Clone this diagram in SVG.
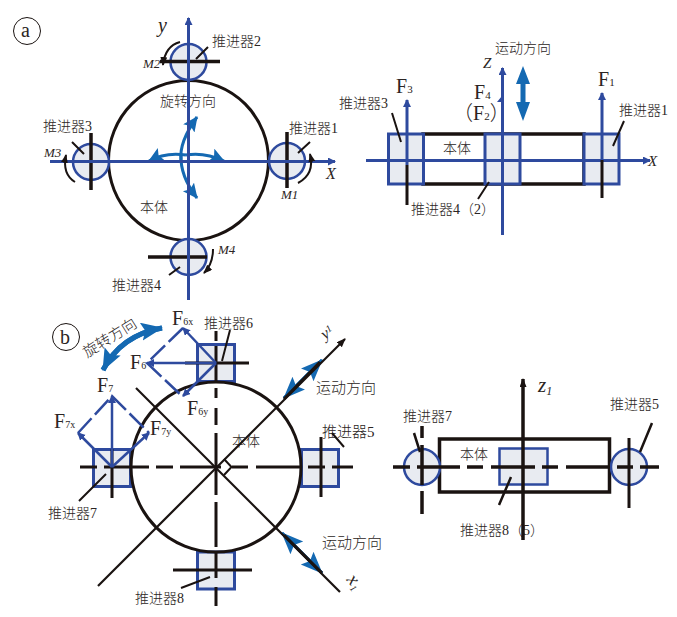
<svg xmlns="http://www.w3.org/2000/svg" width="677" height="617" viewBox="0 0 677 617">
<defs>
<marker id="ba" markerUnits="userSpaceOnUse" markerWidth="8" markerHeight="10" refX="7" refY="4" orient="auto"><path d="M0 0L8 4L0 8z" fill="#2e4a9e"/></marker>
<marker id="bk" markerUnits="userSpaceOnUse" markerWidth="10" markerHeight="8" refX="8" refY="3.500" orient="auto"><path d="M0 0L9 3.500L0 7z" fill="#1a1311"/></marker>
<marker id="tl" markerUnits="userSpaceOnUse" markerWidth="18" markerHeight="16" refX="14" refY="7" orient="auto"><path d="M0 0L15 7L0 14L3 7z" fill="#1469b2"/></marker>
<marker id="tl2" markerUnits="userSpaceOnUse" markerWidth="24" markerHeight="20" refX="21" refY="9" orient="auto"><path d="M0 0L22 9L0 18L4 9z" fill="#1469b2"/></marker>
</defs>
<style>
text{font-family:"Liberation Serif","Noto Sans CJK SC",serif;font-size:14px;font-weight:300;fill:#2b2523}
.f{font-size:20px}
.s{font-size:10px}
.i{font-style:italic;font-size:16px}
.m{font-style:italic;font-size:13px}
.bd{fill:none;stroke:#1a1311;stroke-width:3}
.th{fill:#e8ebf1;stroke:#2e4a9e;stroke-width:2.5}
.sq{fill:#e8ebf1;stroke:#2e4a9e;stroke-width:3}
.bar{stroke:#1a1311;stroke-width:3;fill:none}
.thin{stroke:#1a1311;stroke-width:2;fill:none}
.ax{stroke:#2e4a9e;stroke-width:3;fill:none}
.fv{stroke:#2e4a9e;stroke-width:2.5;fill:none}
.tl{stroke:#1469b2;stroke-width:3;fill:none}
</style>
<g id="label-a"><circle cx="27" cy="31" r="13.500" fill="#fff" stroke="#1a1311" stroke-width="1"/><text x="21" y="37" style="font-size:20px">a</text></g>
<g id="label-b"><circle cx="66" cy="337" r="13.500" fill="#fff" stroke="#1a1311" stroke-width="1"/><text x="60" y="344" style="font-size:20px">b</text></g>

<g id="a-body"><circle class="bd" cx="188.500" cy="160.500" r="80"/><text x="160" y="106">旋转方向</text><text x="140" y="212">本体</text></g>
<g id="a-thruster-1"><circle class="th" cx="287" cy="161" r="18"/><text x="289" y="133">推进器1</text></g>
<g id="a-thruster-2"><circle class="th" cx="188.500" cy="62" r="18"/><text x="212" y="46">推进器2</text></g>
<g id="a-thruster-3"><circle class="th" cx="91" cy="162" r="18"/><text x="43" y="131">推进器3</text></g>
<g id="a-thruster-4"><circle class="th" cx="188.500" cy="257" r="18"/><text x="112" y="290">推进器4</text></g>

<g id="side-a-body"><rect class="bd" x="423" y="134" width="161" height="50" style="stroke-width:3.500"/><text x="443" y="153">本体</text><text x="495" y="53">运动方向</text></g>
<g id="side-a-thruster-3"><rect class="sq" x="388.500" y="134" width="35" height="50"/><text x="339" y="108">推进器3</text></g>
<g id="side-a-thruster-4"><rect class="sq" x="485" y="134" width="35" height="50"/><text x="411" y="214">推进器4（2）</text></g>
<g id="side-a-thruster-1"><rect class="sq" x="584" y="134" width="35" height="50"/><text x="619" y="115">推进器1</text></g>

<g id="b-thruster-6"><rect class="sq" x="197.500" y="344.500" width="37" height="37"/><text x="204" y="328">推进器6</text></g>
<g id="b-thruster-7"><rect class="sq" x="93.500" y="449.500" width="37" height="37"/><text x="48" y="518">推进器7</text></g>
<g id="b-thruster-5"><rect class="sq" x="301.500" y="449.500" width="37" height="37"/><text x="322" y="437" style="font-size:15px">推进器5</text></g>
<g id="b-thruster-8"><rect class="sq" x="197.500" y="552" width="37" height="37"/><text x="135" y="603">推进器8</text></g>
<g id="b-body"><circle class="bd" cx="216" cy="467" r="85"/><text x="232" y="446">本体</text></g>

<g id="side-b-body"><rect class="bd" x="439.500" y="439" width="170" height="53" style="stroke-width:3.500"/><text x="460" y="459">本体</text></g>
<g id="side-b-thruster-8"><rect class="th" x="499.500" y="448.500" width="48" height="36"/><text x="460" y="535">推进器8（5）</text></g>
<g id="side-b-thruster-7"><circle class="th" cx="422" cy="467" r="18"/><text x="403" y="421">推进器7</text></g>
<g id="side-b-thruster-5"><circle class="th" cx="629" cy="467" r="18"/><text x="610" y="409">推进器5</text></g>

<g id="connectors">
<path class="bar" d="M160 61.500H220M287 132V188M91 133V190M148 257H207" style="stroke-width:3.500"/>
<path class="tl" d="M181 160Q179 142 197 117" marker-end="url(#tl)"/>
<path class="tl" d="M181 155Q180 176 197 198" marker-end="url(#tl)"/>
<path class="tl" d="M186 155Q165 152 149 161" marker-end="url(#tl)"/>
<path class="tl" d="M186 155Q205 152 224 161" marker-end="url(#tl)"/>
<path class="ax" d="M188.500 300V18" marker-end="url(#ba)"/>
<path class="ax" d="M50 161.500H335" marker-end="url(#ba)"/>
<path class="thin" d="M196 59L208 47M298 153L310 142M84 154L72 142M180 267L169 275"/>
<path class="thin" d="M180 42Q165 46 163 65" marker-end="url(#bk)"/>
<path class="thin" d="M298 183Q315 174 310 154" marker-end="url(#bk)"/>
<path class="thin" d="M75 182Q62 174 66 155" marker-end="url(#bk)"/>
<path class="thin" d="M213 249Q213 264 204 273" marker-end="url(#bk)"/>

<path class="ax" d="M366 160.500H650" marker-end="url(#ba)"/>
<path class="ax" d="M502.500 235V68" marker-end="url(#ba)"/>
<path class="ax" d="M407 165V100" marker-end="url(#ba)"/>
<path class="ax" d="M602 160V93" marker-end="url(#ba)"/>
<path class="bar" d="M407 165V205M602 160V198"/>
<path d="M497 102h5v-6z" fill="#2e4a9e"/>
<path class="thin" d="M392 113L401 142M624 121L613 146M489 182L478 199"/>
<path d="M523 66L530 84H525.500V102H530L523 121L516 102H520.500V84H516z" fill="#1469b2"/>

<path class="bar" d="M80 467H97M104 467H149M156 467H173M180 467H221M232 467H248M256 467H302M308 467H325M332 467H353"/>
<path class="bar" d="M216 331V341M216 346V381M216 388V398M216 408V425M216 433V495M216 502V547M216 553V578M216 587V606"/>
<path class="bar" d="M185 363H249M321 437V497M173 570H252M112 449V498"/>
<path class="tl" d="M322 360L284 398" marker-end="url(#tl2)"/>
<path class="tl" d="M284 398L322 360" marker-end="url(#tl2)"/>
<path class="tl" d="M282 533L322 573" marker-end="url(#tl2)"/>
<path class="tl" d="M322 573L282 533" marker-end="url(#tl2)"/>
<path class="thin" d="M98 586L345 339" marker-end="url(#bk)" style="stroke-width:2.200"/>
<path class="thin" d="M136 388L340 592" style="stroke-width:2.200"/>
<path class="thin" d="M284 399L320 362M284 535L322 573" style="stroke-width:3"/>
<path class="thin" d="M224 459L231.500 467L224 475"/>
<path class="thin" d="M222 361L230 330M332 433L344 447"/>
<path class="thin" d="M106 474L79 501M210 577L181 588"/>
<path class="tl" d="M103 370Q121 335 162 328" marker-end="url(#tl2)" style="stroke-width:5"/>
<path class="tl" d="M162 328Q121 335 103 370" marker-end="url(#tl2)" style="stroke-width:5"/>
<path class="fv" d="M216 363H147" marker-end="url(#ba)"/>
<path class="fv" d="M216 363L183 396" marker-end="url(#ba)"/>
<path class="fv" d="M216 363L183 328" marker-end="url(#ba)"/>
<path class="fv" d="M112 467V396" marker-end="url(#ba)"/>
<path class="fv" d="M112 467L78 433" marker-end="url(#ba)"/>
<path class="fv" d="M112 467L149 433" marker-end="url(#ba)"/>
<path class="fv" d="M183 328L147 363L183 397" stroke-dasharray="20 5"/>
<path class="fv" d="M78 433L112 396L149 433" stroke-dasharray="20 5"/>

<path class="bar" d="M393 467H410M417 467H460M467 467H483M491 467H535M542 467H558M566 467H610M617 467H633M640 467H659" style="stroke-width:3.500"/>
<path class="bar" d="M523 540V379" marker-end="url(#bk)" style="stroke-width:3.500"/>
<path class="bar" d="M422 426V438M422 445V485M422 491V514" style="stroke-width:3.500"/>
<path class="bar" d="M629 438V508"/>
<path class="thin" d="M414 433L420 452M652 423L640 452M511 477L499 505" style="stroke-width:2.500"/>
</g>

<g id="axis-labels">
<text class="i" x="158" y="32" style="font-size:20px">y</text>
<text class="i" x="326" y="179">X</text>
<text class="m" x="143" y="68">M2</text>
<text class="m" x="281" y="199">M1</text>
<text class="m" x="44" y="157">M3</text>
<text class="m" x="218" y="254">M4</text>
<text class="i" x="483" y="68" style="font-size:15px">Z</text>
<text class="i" x="648" y="166" style="font-size:15px">X</text>
<text class="f" x="396" y="93">F<tspan class="s" style="font-size:11px">3</tspan></text>
<text class="f" x="474" y="99">F<tspan class="s" style="font-size:11px">4</tspan></text>
<text class="f" x="453" y="120">（F<tspan class="s" style="font-size:11px">2</tspan>）</text>
<text class="f" x="598" y="86">F<tspan class="s" style="font-size:11px">1</tspan></text>
<text class="f" x="172" y="325">F<tspan class="s">6x</tspan></text>
<text class="f" x="130" y="369">F<tspan class="s">6</tspan></text>
<text class="f" x="187" y="415">F<tspan class="s">6y</tspan></text>
<text class="f" x="97" y="392">F<tspan class="s">7</tspan></text>
<text class="f" x="54" y="428">F<tspan class="s">7x</tspan></text>
<text class="f" x="150" y="435">F<tspan class="s">7y</tspan></text>
<text x="316" y="393" style="font-size:15px">运动方向</text>
<text x="322" y="548" style="font-size:15px">运动方向</text>
<text transform="translate(87 358) rotate(-32)" style="font-size:15px">旋转方向</text>
<text class="i" transform="translate(325 340) rotate(-35)">y<tspan class="s" dy="-4">1</tspan></text>
<text class="i" transform="translate(346 580) rotate(50)" style="font-size:19px">x<tspan class="s" dy="3">1</tspan></text>
<text class="i" x="538" y="392" style="font-size:21px">z<tspan class="s" dy="3" style="font-size:12px">1</tspan></text>
</g>
</svg>
